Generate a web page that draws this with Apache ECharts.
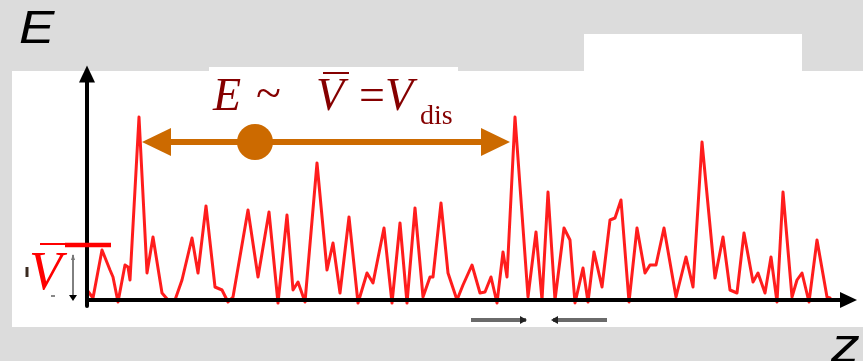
<!DOCTYPE html>
<html>
<head>
<meta charset="utf-8">
<script src="https://cdn.jsdelivr.net/npm/echarts@6/dist/echarts.min.js"></script>
<style>
  html, body { margin: 0; padding: 0; background: #dcdcdc; }
  #chart { width: 863px; height: 361px; }
</style>
</head>
<body>
<div id="chart"></div>
<script>
// Position along z and the potential height E of the disordered landscape
const zPos = [0, 6, 15, 23, 26, 31, 38, 41, 43, 52, 60, 66, 75, 81, 88, 95, 105, 111, 119, 128,
  135, 141, 146, 161, 171, 182, 191, 200, 206, 211, 218, 230, 240, 246, 253, 262, 271, 280, 286, 297,
  305, 313, 320, 328, 336, 343, 346, 354, 361, 370, 376, 385, 393, 398, 404, 410, 416, 420, 428, 441,
  449, 455, 461, 468, 477, 483, 488, 496, 501, 507, 515, 523, 528, 534, 542, 550, 558, 563, 569, 577,
  589, 599, 606, 615, 628, 636, 643, 650, 657, 666, 671, 678, 684, 690, 696, 705, 710, 715, 722, 730,
  740, 743];
const energy = [10, 2, 50, 30, 23, -2, 35, 33, 20, 183, 27, 63, 7, 0, 0, 20, 62, 27, 94, 13,
  10, -2, 3, 90, 23, 88, -3, 85, 10, 18, -2, 137, 30, 57, 7, 83, -3, 27, 17, 72,
  -3, 77, -3, 92, 3, 23, 23, 97, 27, 0, 15, 35, 7, 8, 23, -3, 48, 23, 183, 3,
  68, 0, 108, 0, 72, 60, -3, 32, -2, 48, 13, 80, 82, 100, -2, 72, 27, 35, 35, 72,
  3, 43, 13, 158, 22, 63, 10, 7, 67, 18, 27, 7, 43, -2, 108, 3, 20, 27, -2, 60,
  3, 2];

// Annotation levels (same units as the data)
const meanLevel = 55;          // average height V-bar
const arrowLevel = 158;        // height of the E ~ V-bar span arrow
const spanStart = 55;          // span arrow reaches the first tall peak...
const spanEnd = 423;           // ...and the next one
const spanDot = 168;           // marker on the span arrow

const seriesData = zPos.map((z, i) => [z, energy[i]]);

const chart = echarts.init(document.getElementById('chart'), null, { renderer: 'canvas' });

const axisCommon = {
  type: 'value',
  axisLine: {
    show: true,
    symbol: ['none', 'triangle'],
    symbolSize: [16, 17],
    lineStyle: { color: '#000', width: 4 }
  },
  axisTick: { show: false },
  axisLabel: { show: false },
  splitLine: { show: false },
  z: 5
};

chart.setOption({
  animation: false,
  backgroundColor: '#dcdcdc',
  grid: { left: 87, right: 14.5, top: 74, bottom: 55, containLabel: false },
  xAxis: Object.assign({}, axisCommon, { min: 0, max: 761.5 }),
  yAxis: Object.assign({}, axisCommon, { min: -6, max: 226 }),
  series: [{
    type: 'line',
    data: seriesData,
    showSymbol: false,
    smooth: false,
    clip: false,
    lineStyle: { color: '#ff0a0a', width: 3, opacity: 0.92, join: 'round', cap: 'round' },
    z: 2
  }]
});

function px(z, e) { return chart.convertToPixel({ gridIndex: 0 }, [z, e]); }

const origin = px(0, 0);
const lvl = px(0, meanLevel);
const a0 = px(spanStart, arrowLevel);
const a1 = px(spanEnd, arrowLevel);
const dot = px(spanDot, arrowLevel);
const orange = '#cc6a00';
const darkRed = '#850000';
const headLen = 29, headHalf = 14;
const serif = '"Liberation Serif", "Times New Roman", serif';
const sans = '"Liberation Sans", Arial, sans-serif';

const graphics = [
  // white panels behind the plot
  { type: 'rect', shape: { x: 12, y: 71, width: 851, height: 256 }, style: { fill: '#fff' }, z: -10, silent: true },
  { type: 'rect', shape: { x: 209, y: 67, width: 249, height: 5 }, style: { fill: '#fff' }, z: -10, silent: true },
  { type: 'rect', shape: { x: 584, y: 34, width: 218, height: 38 }, style: { fill: '#fff' }, z: -10, silent: true },

  // axis names
  { type: 'text', x: 19, y: 30, scaleX: 1.13, style: { text: 'E', font: 'italic 47px ' + sans, fill: '#000', verticalAlign: 'middle' }, z: 10 },
  { type: 'text', x: 831, y: 349, scaleX: 1.2, style: { text: 'z', font: 'italic 48px ' + sans, fill: '#000', verticalAlign: 'middle' }, z: 10 },

  // span arrow
  { type: 'line', shape: { x1: a0[0] + headLen - 2, y1: a0[1], x2: a1[0] - headLen + 2, y2: a1[1] }, style: { stroke: orange, lineWidth: 6 }, z: 8 },
  { type: 'polygon', shape: { points: [[a0[0], a0[1]], [a0[0] + headLen, a0[1] - headHalf], [a0[0] + headLen, a0[1] + headHalf]] }, style: { fill: orange }, z: 8 },
  { type: 'polygon', shape: { points: [[a1[0], a1[1]], [a1[0] - headLen, a1[1] - headHalf], [a1[0] - headLen, a1[1] + headHalf]] }, style: { fill: orange }, z: 8 },
  { type: 'circle', shape: { cx: dot[0], cy: dot[1], r: 18 }, style: { fill: orange }, z: 8 },

  // formula E ~ V-bar = V_dis
  { type: 'text', x: 213, y: 98, style: { text: 'E', font: 'italic 46px ' + serif, fill: darkRed, verticalAlign: 'middle' }, z: 9 },
  { type: 'text', x: 256, y: 96, style: { text: '~', font: '46px ' + serif, fill: darkRed, verticalAlign: 'middle' }, z: 9 },
  { type: 'text', x: 316, y: 98, style: { text: 'V', font: 'italic 46px ' + serif, fill: darkRed, verticalAlign: 'middle' }, z: 9 },
  { type: 'line', shape: { x1: 323, y1: 73, x2: 349, y2: 73 }, style: { stroke: darkRed, lineWidth: 2 }, z: 9 },
  { type: 'text', x: 359, y: 98, style: { text: '=', font: '46px ' + serif, fill: darkRed, verticalAlign: 'middle' }, z: 9 },
  { type: 'text', x: 385, y: 98, style: { text: 'V', font: 'italic 46px ' + serif, fill: darkRed, verticalAlign: 'middle' }, z: 9 },
  { type: 'text', x: 420, y: 117, style: { text: 'dis', font: '28px ' + serif, fill: darkRed, verticalAlign: 'middle' }, z: 9 },

  // mean level marker V-bar at the left
  { type: 'line', shape: { x1: 40, y1: lvl[1] - 1, x2: 66, y2: lvl[1] - 1 }, style: { stroke: '#ff0000', lineWidth: 2 }, z: 9 },
  { type: 'line', shape: { x1: 65, y1: lvl[1], x2: 111, y2: lvl[1] }, style: { stroke: '#ff0000', lineWidth: 4.5 }, z: 9 },
  { type: 'text', x: 29, y: 275, style: { text: 'V', font: 'italic 54px ' + serif, fill: '#ff0000', verticalAlign: 'middle' }, z: 9 },
  { type: 'rect', shape: { x: 25.5, y: 267, width: 3, height: 10 }, style: { fill: '#3a2a20' }, z: 9 },
  { type: 'rect', shape: { x: 51, y: 295, width: 4, height: 2 }, style: { fill: '#888' }, z: 9 },

  // thin height bracket between the axis and the mean level
  { type: 'line', shape: { x1: 73, y1: lvl[1] + 10, x2: 73, y2: origin[1] - 2 }, style: { stroke: '#000', lineWidth: 1 }, z: 9 },
  { type: 'polygon', shape: { points: [[71, lvl[1] + 15], [75, lvl[1] + 15], [73, lvl[1] + 9]] }, style: { fill: '#777' }, z: 9 },
  { type: 'polygon', shape: { points: [[69, origin[1] - 5], [77, origin[1] - 5], [73, origin[1] + 1]] }, style: { fill: '#000' }, z: 9 },

  // grey pointers below the z axis
  { type: 'line', shape: { x1: 471, y1: 320, x2: 526, y2: 320 }, style: { stroke: '#6a6a6a', lineWidth: 4 }, z: 9 },
  { type: 'polygon', shape: { points: [[520, 316], [520, 324], [527, 320]] }, style: { fill: '#222' }, z: 9 },
  { type: 'line', shape: { x1: 553, y1: 320, x2: 607, y2: 320 }, style: { stroke: '#6a6a6a', lineWidth: 4 }, z: 9 },
  { type: 'polygon', shape: { points: [[558, 316], [558, 324], [551, 320]] }, style: { fill: '#222' }, z: 9 }
];

chart.setOption({ graphic: graphics });
</script>
</body>
</html>
